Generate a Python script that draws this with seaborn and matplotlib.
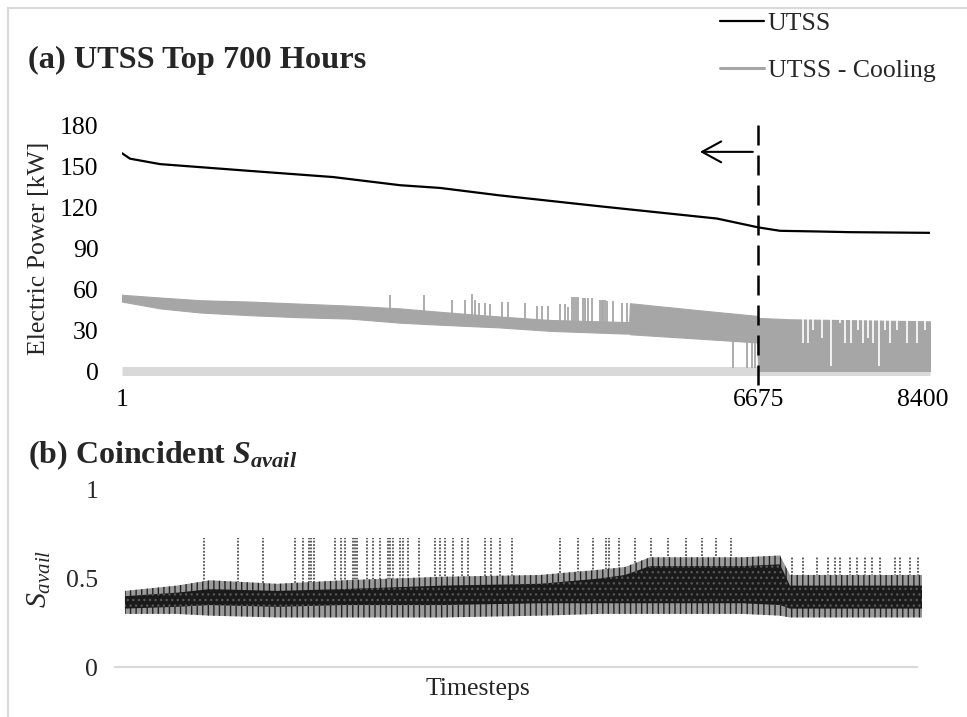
import numpy as np
import matplotlib
matplotlib.use("Agg")
import matplotlib.pyplot as plt
from matplotlib.lines import Line2D
from matplotlib.patches import Rectangle
import seaborn as sns

sns.set_style("white")
plt.rcParams["font.family"] = ["Liberation Serif", "DejaVu Serif"]
plt.rcParams["mathtext.fontset"] = "custom"
plt.rcParams["mathtext.rm"] = "Liberation Serif"
plt.rcParams["mathtext.it"] = "Liberation Serif:italic"
plt.rcParams["mathtext.bf"] = "Liberation Serif:bold"
plt.rcParams["mathtext.bfit"] = "Liberation Serif:italic:bold"
plt.rcParams["hatch.linewidth"] = 1.0

# ---------------- data ----------------
# (a) UTSS load (sorted), kW
utss_t = [1, 85, 400, 1343, 2214, 2917, 3336, 3965, 5014, 6241, 6675, 6902, 7300, 7636, 8475]
utss_kw = [160, 156, 152, 147, 142.5, 136.5, 134.5, 129, 121, 112, 105.5, 103, 102.5, 102, 101.5]

# (a) UTSS - Cooling: envelope of the dense series
cool_t = [1, 400, 818, 1343, 1867, 2392, 2917, 3336, 3965, 4489, 5275, 5320, 5328, 6000, 6660, 6675, 7000, 8475]
cool_hi = [56, 54, 52, 51, 49.5, 48, 46, 43.5, 40, 37.5, 36, 36, 49.8, 45, 40.5, 39, 38, 36.5]
cool_lo = [51, 46, 43, 41, 39.5, 38.5, 35.5, 34, 32, 29.5, 27.5, 27.5, 27, 24, 21, 0, 0, 0]
# upward spikes of the cooling series
cool_spk_t = [2812, 3168, 3462, 3598, 3672, 3703, 3745, 3808, 3860, 3986, 4049, 4227, 4353,
              4406, 4468, 4594, 4647, 4678, 4720, 4740, 4760, 4783, 4835, 4860, 4888, 4930,
              5014, 5030, 5050, 5066, 5088, 5150, 5245, 5297]
cool_spk_kw = [55.5, 56, 52, 52, 56.5, 52, 50, 50, 49.5, 51, 51, 50, 48,
               48, 48, 49.5, 49.5, 47, 54.5, 54.5, 54.5, 54.5, 53.5, 53.5, 53.5, 53.5,
               52, 52, 52, 52, 51.5, 51.5, 50, 50]
# downward drops to ~0 just before the cutoff
cool_dip_t = [6409, 6556, 6608, 6640]
cool_dip_kw = [2, 2, 2, 2]
# gaps below the top edge after the cutoff
cool_gap_t = [7143, 7195, 7248, 7343, 7437, 7531, 7584, 7647, 7720, 7773, 7825, 7878,
              7940, 8003, 8055, 8129, 8234, 8339, 8423]
cool_gap_kw = [20.5, 20.5, 30, 24, 4, 35, 20.5, 20.5, 30, 20.5, 24, 20.5,
               4, 30, 20.5, 30, 20.5, 20.5, 30]

cutoff = 6675
x_ticks = [1, 6675, 8400]
y_ticks_a = [0, 30, 60, 90, 120, 150, 180]

# (b) coincident S_avail: envelope of the dense series
sav_t = [1, 554, 905, 1617, 2319, 3382, 4414, 5052, 5317, 5583, 6572, 6965, 7071, 8475]
sav_hi = [0.43, 0.46, 0.49, 0.47, 0.49, 0.51, 0.52, 0.55, 0.565, 0.62, 0.62, 0.63, 0.52, 0.52]
sav_lo = [0.30, 0.30, 0.29, 0.28, 0.28, 0.28, 0.29, 0.30, 0.30, 0.30, 0.30, 0.29, 0.28, 0.28]
sav_core_hi = [0.40, 0.42, 0.44, 0.43, 0.44, 0.46, 0.47, 0.50, 0.52, 0.57, 0.57, 0.58, 0.46, 0.46]
sav_core_lo = [0.33, 0.34, 0.35, 0.34, 0.35, 0.35, 0.36, 0.36, 0.36, 0.36, 0.36, 0.35, 0.33, 0.33]
# tall spikes
sav_spk_t = [841, 1203, 1468, 1809, 1894, 1957, 1979, 2011, 2234, 2299, 2341, 2426, 2447,
             2469, 2575, 2639, 2713, 2798, 2819, 2851, 2925, 2957, 3010, 3127, 3297, 3350,
             3403, 3488, 3584, 3648, 3829, 3893, 3988, 4116, 4626, 4818, 4977, 5115, 5147,
             5253, 5424, 5594, 5775, 5966, 6136, 6285, 6444]
sav_spk_top = 0.73
# shorter spikes after the high-demand block
sav_spk2_t = [7093, 7210, 7359, 7476, 7550, 7603, 7710, 7784, 7869, 7943, 8029, 8188, 8241, 8348, 8433]
sav_spk2_top = 0.62

# ---------------- figure ----------------
W, H = 967, 717
fig = plt.figure(figsize=(W / 100, H / 100), dpi=100)
fig.patch.set_facecolor("white")

def fx(px):
    return px / W

def fy(py):
    return 1 - py / H

GREY = "#a6a6a6"
LIGHT = "#d9d9d9"
FS = 18.5

# ---- panel (a)
ax1 = fig.add_axes([fx(122), fy(371), (930 - 122) / W, (371 - 126) / H])
ax1.set_xlim(1, 8475)
ax1.set_ylim(0, 180)

ax1.fill_between(cool_t, cool_lo, cool_hi, color=GREY, lw=0.8, edgecolor=GREY, zorder=2)
lo_at_spk = np.interp(cool_spk_t, cool_t, cool_lo)
ax1.vlines(cool_spk_t, lo_at_spk, cool_spk_kw, color=GREY, lw=1.3, zorder=2)
lo_at_dip = np.interp(cool_dip_t, cool_t, cool_lo)
ax1.vlines(cool_dip_t, cool_dip_kw, lo_at_dip, color=GREY, lw=1.3, zorder=2)
hi_at_gap = np.interp(cool_gap_t, cool_t, cool_hi)
ax1.vlines(cool_gap_t, cool_gap_kw, hi_at_gap + 1.0, color="white", lw=1.2, zorder=2.2)

sns.lineplot(x=utss_t, y=utss_kw, ax=ax1, color="black", lw=1.6, zorder=3, legend=False)

ax1.axvline(cutoff, ymin=-0.057, ymax=1.024, color="black", lw=1.8,
            ls=(0, (8, 4)), clip_on=False, zorder=4)
ax1.annotate("", xy=(cutoff - 613, 161), xytext=(cutoff - 58, 161),
             arrowprops=dict(arrowstyle="->,head_length=0.55,head_width=0.3",
                             lw=1.5, color="black", mutation_scale=25,
                             shrinkA=0, shrinkB=0))

for s in ["top", "right", "left"]:
    ax1.spines[s].set_visible(False)
ax1.spines["bottom"].set_position(("data", 0))
ax1.spines["bottom"].set_color(LIGHT)
ax1.spines["bottom"].set_linewidth(6.5)
ax1.spines["bottom"].set_capstyle("butt")
ax1.spines["bottom"].set_zorder(1)
ax1.set_xticks(x_ticks)
ax1.set_xticklabels([str(v) for v in x_ticks])
ax1.set_yticks(y_ticks_a)
ax1.set_yticklabels([str(v) for v in y_ticks_a])
ax1.tick_params(axis="both", length=0, labelsize=FS, colors="black")
ax1.tick_params(axis="y", pad=17)
ax1.tick_params(axis="x", pad=13)
ax1.set_ylabel("Electric Power [kW]", fontsize=FS)
ax1.yaxis.set_label_coords(-0.089, 0.5)
ax1.set_xlabel("")
ax1.grid(False)

fig.text(fx(28), fy(60), "(a) UTSS Top 700 Hours", fontsize=23.3, fontweight="bold",
         va="center", ha="left")

handles = [Line2D([], [], color="black", lw=1.6), Line2D([], [], color=GREY, lw=2.2)]
fig.legend(handles, ["UTSS", "UTSS - Cooling"], loc="upper left",
           bbox_to_anchor=(fx(720), fy(12)), frameon=False, borderpad=0,
           borderaxespad=0, handlelength=1.7, handletextpad=0.15,
           labelspacing=0.95, fontsize=FS)

# ---- panel (b)
ax2 = fig.add_axes([fx(115), fy(667), (922 - 115) / W, 177 / H])
ax2.set_xlim(-105, 8475)
ax2.set_ylim(0, 1)

ax2.vlines(sav_spk_t, 0.42, sav_spk_top, color="#333333", lw=1.1, ls=(0, (1.2, 1.0)), zorder=1)
ax2.vlines(sav_spk2_t, 0.42, sav_spk2_top, color="#333333", lw=1.1, ls=(0, (1.2, 1.0)), zorder=1)
ax2.fill_between(sav_t, sav_lo, sav_hi, facecolor="#9a9a9a", edgecolor="#222222",
                 hatch="|||", lw=0, zorder=2)
ax2.fill_between(sav_t, sav_core_lo, sav_core_hi, facecolor="#1a1a1a", edgecolor="#555555",
                 hatch="...", lw=0, zorder=3)

for s in ["top", "right", "left"]:
    ax2.spines[s].set_visible(False)
ax2.spines["bottom"].set_color(LIGHT)
ax2.spines["bottom"].set_linewidth(1.5)
ax2.spines["bottom"].set_bounds(-105, 8422)
ax2.set_xticks([])
ax2.set_yticks([0, 0.5, 1])
ax2.set_yticklabels(["0", "0.5", "1"])
ax2.tick_params(axis="y", length=0, labelsize=FS, pad=12)
ax2.set_xlabel("Timesteps", fontsize=FS)
ax2.xaxis.set_label_coords(0.45, -0.06)
ax2.set_ylabel(r"$\mathit{S}_{\mathit{avail}}$", fontsize=FS + 3)
ax2.yaxis.set_label_coords(-0.077, 0.5)
ax2.grid(False)

fig.text(fx(28), fy(455), r"(b) Coincident $\mathbfit{S}_{\mathbfit{avail}}$", fontsize=23,
         fontweight="bold", va="center", ha="left")

# light outer frame (only top and left edges are inside the picture)
fig.patches.append(Rectangle((fx(8), -0.1), 1.2, fy(8) + 0.1, transform=fig.transFigure,
                             fill=False, edgecolor=LIGHT, lw=1.5))

fig.savefig("out.png", dpi=100)
